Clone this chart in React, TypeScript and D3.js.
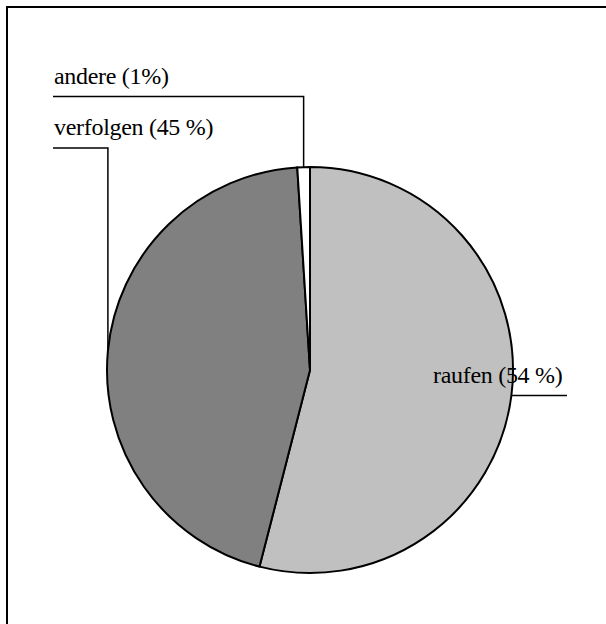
import { useEffect, useRef } from 'react';
import * as d3 from 'd3';

const categories = ['raufen', 'verfolgen', 'andere'];
const shares = [54, 45, 1];
const labels = ['raufen (54 %)', 'verfolgen (45 %)', 'andere (1%)'];
const fills = ['#c0c0c0', '#808080', '#ffffff'];

const App = () => {
  const svgRef = useRef<SVGSVGElement>(null);

  useEffect(() => {
    if (!svgRef.current) return;
    const svg = d3.select(svgRef.current);
    svg.selectAll('*').remove();

    const width = 606;
    const height = 624;
    const cx = 310;
    const cy = 370;
    const r = 203;

    // frame, right and bottom edges run off the page
    svg.append('rect')
      .attr('x', 7).attr('y', 7)
      .attr('width', width + 20).attr('height', height + 20)
      .style('fill', '#fff')
      .style('stroke', '#000')
      .style('stroke-width', 2);

    const data = categories.map((c, i) => ({ name: c, value: shares[i], label: labels[i], fill: fills[i] }));
    const pie = d3.pie<any>().sort(null).value(d => d.value);
    const arcs = pie(data);
    const arc = d3.arc<any>().innerRadius(0).outerRadius(r);

    const g = svg.append('g').attr('transform', `translate(${cx},${cy})`);

    // leader lines from arc midpoints
    const labelPos: Record<string, { x: number; y: number; lineY: number; lineX: number }> = {
      raufen: { x: 433, y: 383, lineY: 0, lineX: 567 },
      verfolgen: { x: 54, y: 135, lineY: 148, lineX: 53 },
      andere: { x: 54, y: 84, lineY: 96.5, lineX: 53 },
    };

    const texts = svg.append('g');
    arcs.forEach(a => {
      const mid = (a.startAngle + a.endAngle) / 2;
      const px = cx + r * Math.sin(mid);
      const py = cy - r * Math.cos(mid);
      const p = labelPos[a.data.name];
      let pts: [number, number][];
      if (a.data.name === 'raufen') {
        pts = [[px, py], [p.lineX, py]];
      } else {
        pts = [[px, py], [px, p.lineY], [p.lineX, p.lineY]];
      }
      svg.append('path')
        .attr('d', d3.line()(pts))
        .style('fill', 'none')
        .style('stroke', '#000')
        .style('stroke-width', 1.5);
      texts.append('text')
        .attr('x', p.x)
        .attr('y', p.y)
        .text(a.data.label)
        .style('font-family', '"Liberation Serif", "Times New Roman", serif')
        .style('font-size', '24px')
        .style('letter-spacing', '-0.3px')
        .style('fill', '#000');
    });

    g.selectAll('path')
      .data(arcs)
      .enter()
      .append('path')
      .attr('d', arc)
      .style('fill', d => d.data.fill)
      .style('stroke', '#000')
      .style('stroke-width', 2);

    svg.node()!.appendChild(texts.node()!);
  }, []);

  return (
    <div style={{ position: 'absolute', left: 0, top: 0 }}>
      <svg ref={svgRef} width={606} height={624} style={{ display: 'block' }} />
    </div>
  );
};

export default App;
